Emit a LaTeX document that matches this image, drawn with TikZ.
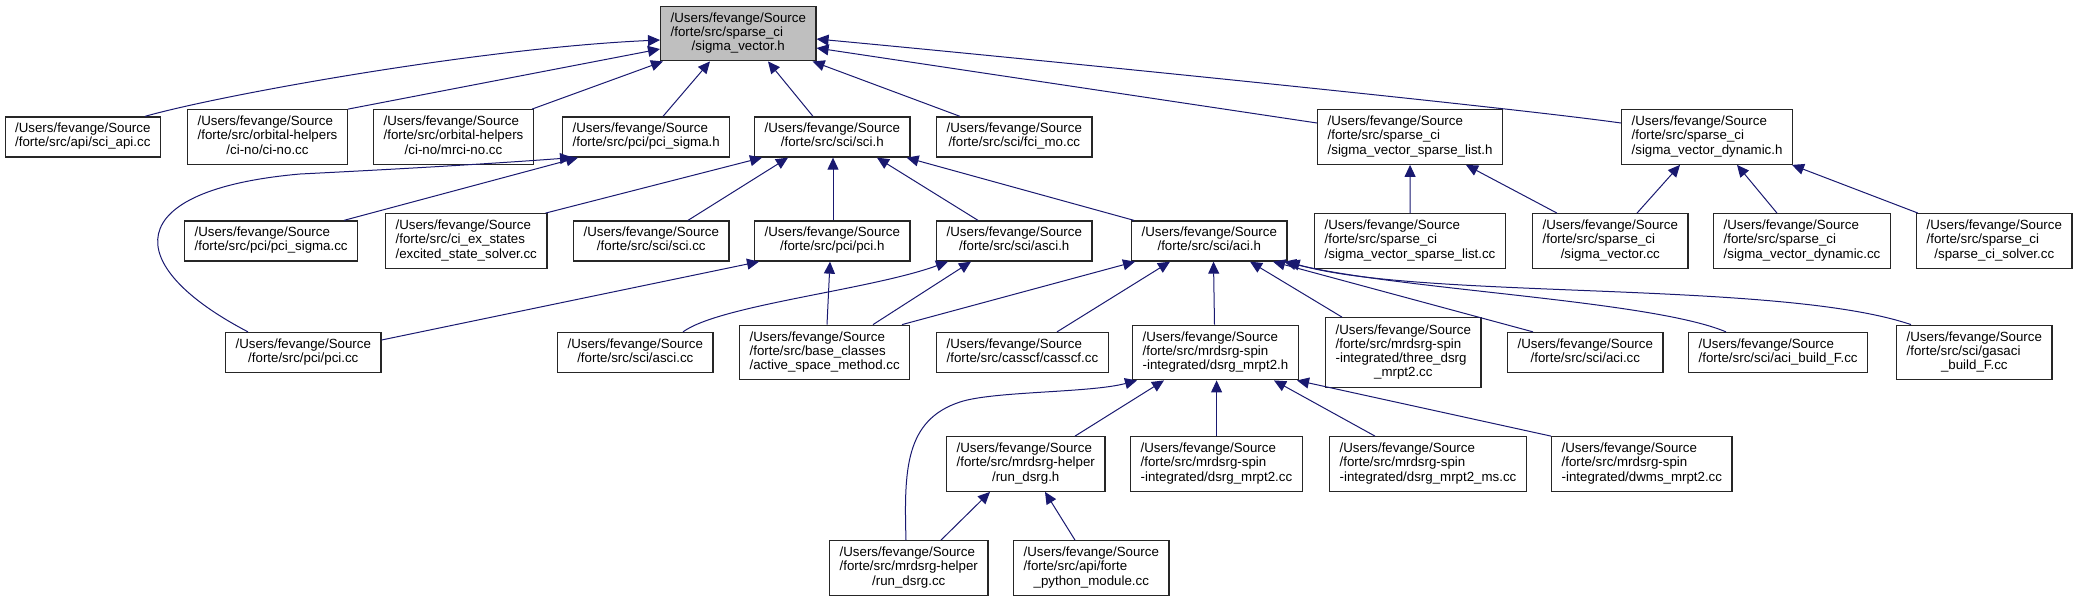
\documentclass[tikz,border=0pt]{standalone}
\usepackage{fontspec}
\usetikzlibrary{arrows.meta}
\newfontfamily\dfont{Liberation Sans}
\definecolor{edgeblue}{HTML}{191970}
\definecolor{rootgray}{HTML}{BFBFBF}
\newcommand{\nlab}[2]{\begin{tabular}{@{}l@{}}#1\\\multicolumn{1}{@{}c@{}}{#2}\end{tabular}}
\begin{document}
\begin{tikzpicture}[x=0.5pt,y=-0.5pt,
  box/.style={draw=black!85, line width=0.65pt, fill=white, inner xsep=5pt, inner ysep=0pt,
    anchor=west, minimum height=20pt, font={\dfont\fontsize{6.65pt}{7.1pt}\selectfont}},
  tri/.style={minimum height=27.25pt},
  quad/.style={minimum height=34.75pt},
  dep/.style={draw=edgeblue, line width=0.5pt, -{Triangle[length=6pt,width=5.5pt]}}]
\useasboundingbox (0,0) rectangle (2079,601);
% row 0
\node[box,tri,fill=rootgray] (root) at (660,33.5) {\nlab{/Users/fevange/Source\\/forte/src/sparse\_ci}{/sigma\_vector.h}};
% row 1
\node[box] (sciapi) at (4.5,137) {\nlab{/Users/fevange/Source}{/forte/src/api/sci\_api.cc}};
\node[box,tri] (cino) at (187,137) {\nlab{/Users/fevange/Source\\/forte/src/orbital-helpers}{/ci-no/ci-no.cc}};
\node[box,tri] (mrcino) at (373,137) {\nlab{/Users/fevange/Source\\/forte/src/orbital-helpers}{/ci-no/mrci-no.cc}};
\node[box] (pcisigmah) at (562,137) {\nlab{/Users/fevange/Source}{/forte/src/pci/pci\_sigma.h}};
\node[box] (scih) at (754,137) {\nlab{/Users/fevange/Source}{/forte/src/sci/sci.h}};
\node[box] (fcimo) at (936,137) {\nlab{/Users/fevange/Source}{/forte/src/sci/fci\_mo.cc}};
\node[box,tri] (sparselisth) at (1317,137) {\nlab{/Users/fevange/Source\\/forte/src/sparse\_ci}{/sigma\_vector\_sparse\_list.h}};
\node[box,tri] (dynamich) at (1621,137) {\nlab{/Users/fevange/Source\\/forte/src/sparse\_ci}{/sigma\_vector\_dynamic.h}};
% row 2
\node[box] (pcisigmacc) at (184,241) {\nlab{/Users/fevange/Source}{/forte/src/pci/pci\_sigma.cc}};
\node[box,tri] (excited) at (385,241) {\nlab{/Users/fevange/Source\\/forte/src/ci\_ex\_states}{/excited\_state\_solver.cc}};
\node[box] (scicc) at (573,241) {\nlab{/Users/fevange/Source}{/forte/src/sci/sci.cc}};
\node[box] (pcih) at (754,241) {\nlab{/Users/fevange/Source}{/forte/src/pci/pci.h}};
\node[box] (ascih) at (936,241) {\nlab{/Users/fevange/Source}{/forte/src/sci/asci.h}};
\node[box] (acih) at (1131,241) {\nlab{/Users/fevange/Source}{/forte/src/sci/aci.h}};
\node[box,tri] (sparselistcc) at (1314,241) {\nlab{/Users/fevange/Source\\/forte/src/sparse\_ci}{/sigma\_vector\_sparse\_list.cc}};
\node[box,tri] (sigmavcc) at (1532,241) {\nlab{/Users/fevange/Source\\/forte/src/sparse\_ci}{/sigma\_vector.cc}};
\node[box,tri] (dynamiccc) at (1713,241) {\nlab{/Users/fevange/Source\\/forte/src/sparse\_ci}{/sigma\_vector\_dynamic.cc}};
\node[box,tri] (solvercc) at (1916,241) {\nlab{/Users/fevange/Source\\/forte/src/sparse\_ci}{/sparse\_ci\_solver.cc}};
% row 3
\node[box] (pcicc) at (225,352.5) {\nlab{/Users/fevange/Source}{/forte/src/pci/pci.cc}};
\node[box] (ascicc) at (557,352.5) {\nlab{/Users/fevange/Source}{/forte/src/sci/asci.cc}};
\node[box,tri] (asm) at (739,352.5) {\nlab{/Users/fevange/Source\\/forte/src/base\_classes}{/active\_space\_method.cc}};
\node[box] (casscf) at (936,352.5) {\nlab{/Users/fevange/Source}{/forte/src/casscf/casscf.cc}};
\node[box,tri] (dsrgh) at (1132,352.5) {\nlab{/Users/fevange/Source\\/forte/src/mrdsrg-spin}{-integrated/dsrg\_mrpt2.h}};
\node[box,quad] (three) at (1325,352.5) {\nlab{/Users/fevange/Source\\/forte/src/mrdsrg-spin\\-integrated/three\_dsrg}{\_mrpt2.cc}};
\node[box] (acicc) at (1507,352.5) {\nlab{/Users/fevange/Source}{/forte/src/sci/aci.cc}};
\node[box] (acibuild) at (1688,352.5) {\nlab{/Users/fevange/Source}{/forte/src/sci/aci\_build\_F.cc}};
\node[box,tri] (gasaci) at (1896,352.5) {\nlab{/Users/fevange/Source\\/forte/src/sci/gasaci}{\_build\_F.cc}};
% row 4
\node[box,tri] (rundsrgh) at (946,464) {\nlab{/Users/fevange/Source\\/forte/src/mrdsrg-helper}{/run\_dsrg.h}};
\node[box,tri] (dsrgcc) at (1130,464) {\nlab{/Users/fevange/Source\\/forte/src/mrdsrg-spin}{-integrated/dsrg\_mrpt2.cc}};
\node[box,tri] (dsrgms) at (1329,464) {\nlab{/Users/fevange/Source\\/forte/src/mrdsrg-spin}{-integrated/dsrg\_mrpt2\_ms.cc}};
\node[box,tri] (dwms) at (1551,464) {\nlab{/Users/fevange/Source\\/forte/src/mrdsrg-spin}{-integrated/dwms\_mrpt2.cc}};
% row 5
\node[box,tri] (rundsrgcc) at (829,568) {\nlab{/Users/fevange/Source\\/forte/src/mrdsrg-helper}{/run\_dsrg.cc}};
\node[box,tri] (pymod) at (1013,568) {\nlab{/Users/fevange/Source\\/forte/src/api/forte}{\_python\_module.cc}};
% edges to root
\draw[dep] ([xshift=70.25pt]sciapi.north west) .. controls (220,95) and (480,48) .. ([yshift=-3.25pt]root.west);
\draw[dep] (cino.north east) -- ([yshift=-7.75pt]root.west);
\draw[dep] ([xshift=-1pt]mrcino.north east) -- ([xshift=1.5pt]root.south west);
\draw[dep] ([xshift=50.5pt]pcisigmah.north west) -- ([xshift=25pt]root.south west);
\draw[dep] ([xshift=29.5pt]scih.north west) -- ([xshift=54pt]root.south west);
\draw[dep] ([xshift=12pt]fcimo.north west) -- ([xshift=-2pt]root.south east);
\draw[dep] ([yshift=7pt]sparselisth.west) -- ([yshift=-7.25pt]root.east);
\draw[dep] ([yshift=7pt]dynamich.west) .. controls (1500,106) and (1000,56) .. ([yshift=-2.75pt]root.east);
% edges to pci_sigma.h
\draw[dep] ([xshift=80pt]pcisigmacc.north west) -- ([xshift=8pt]pcisigmah.south west);
\draw[dep] ([xshift=11.5pt]pcicc.north west) .. controls (120,265) and (120,190) .. (300,174) .. controls (420,168) and (500,163) .. ([xshift=5pt]pcisigmah.south west);
% edges to sci.h
\draw[dep] ([xshift=-1pt]excited.north east) -- ([xshift=4pt]scih.south west);
\draw[dep] ([xshift=57.5pt]scicc.north west) -- ([xshift=17pt]scih.south west);
\draw[dep] ([xshift=39.5pt]pcih.north west) -- ([xshift=39.5pt]scih.south west);
\draw[dep] ([xshift=21pt]ascih.north west) -- ([xshift=61.5pt]scih.south west);
\draw[dep] ([xshift=1.5pt]acih.north west) -- ([xshift=-2pt]scih.south east);
% edges to sparse list / dynamic
\draw[dep] (sparselistcc.north) -- (sparselisth.south);
\draw[dep] ([xshift=12.5pt]sigmavcc.north west) -- ([xshift=74.5pt]sparselisth.south west);
\draw[dep] ([xshift=52.5pt]sigmavcc.north west) -- ([xshift=29.5pt]dynamich.south west);
\draw[dep] ([xshift=32pt]dynamiccc.north west) -- ([xshift=58pt]dynamich.south west);
\draw[dep] ([xshift=1pt]solvercc.north west) -- ([xshift=85.5pt]dynamich.south west);
% edges to pci.h / asci.h
\draw[dep] ([yshift=6.25pt]pcicc.east) -- ([xshift=2.5pt]pcih.south west);
\draw[dep] ([xshift=44pt]asm.north west) -- ([xshift=38pt]pcih.south west);
\draw[dep] ([xshift=63pt]ascicc.north west) .. controls (720,305) and (870,290) .. ([xshift=6pt]ascih.south west);
\draw[dep] ([xshift=67pt]asm.north west) -- ([xshift=17.5pt]ascih.south west);
% edges to aci.h
\draw[dep] ([xshift=81.5pt]asm.north west) -- ([xshift=2pt]acih.south west);
\draw[dep] ([xshift=60.5pt]casscf.north west) -- ([xshift=19.5pt]acih.south west);
\draw[dep] ([xshift=41.25pt]dsrgh.north west) -- ([xshift=41.25pt]acih.south west);
\draw[dep] ([xshift=8.5pt]three.north west) -- ([xshift=59.5pt]acih.south west);
\draw[dep] ([xshift=13pt]acicc.north west) -- ([xshift=71pt]acih.south west);
\draw[dep] ([xshift=19pt]acibuild.north west) .. controls (1650,300) and (1400,290) .. ([xshift=76.5pt]acih.south west);
\draw[dep] ([xshift=7.5pt]gasaci.north west) .. controls (1780,280) and (1420,300) .. (acih.south east);
% edges to dsrg_mrpt2.h
\draw[dep] ([xshift=64.5pt]rundsrgh.north west) -- ([xshift=16pt]dsrgh.south west);
\draw[dep] ([xshift=38.5pt]rundsrgcc.north west) .. controls (904,470) and (905,420) .. (960,402) .. controls (993,391) and (1090,393) .. ([xshift=2.5pt]dsrgh.south west);
\draw[dep] ([xshift=43.3pt]dsrgcc.north west) -- ([xshift=42.3pt]dsrgh.south west);
\draw[dep] ([xshift=23pt]dsrgms.north west) -- ([xshift=71pt]dsrgh.south west);
\draw[dep] (dwms.north west) -- ([xshift=82.5pt]dsrgh.south west);
% edges to run_dsrg.h
\draw[dep] ([xshift=56pt]rundsrgcc.north west) -- ([xshift=22pt]rundsrgh.south west);
\draw[dep] ([xshift=31pt]pymod.north west) -- ([xshift=49.5pt]rundsrgh.south west);
\end{tikzpicture}
\end{document}
